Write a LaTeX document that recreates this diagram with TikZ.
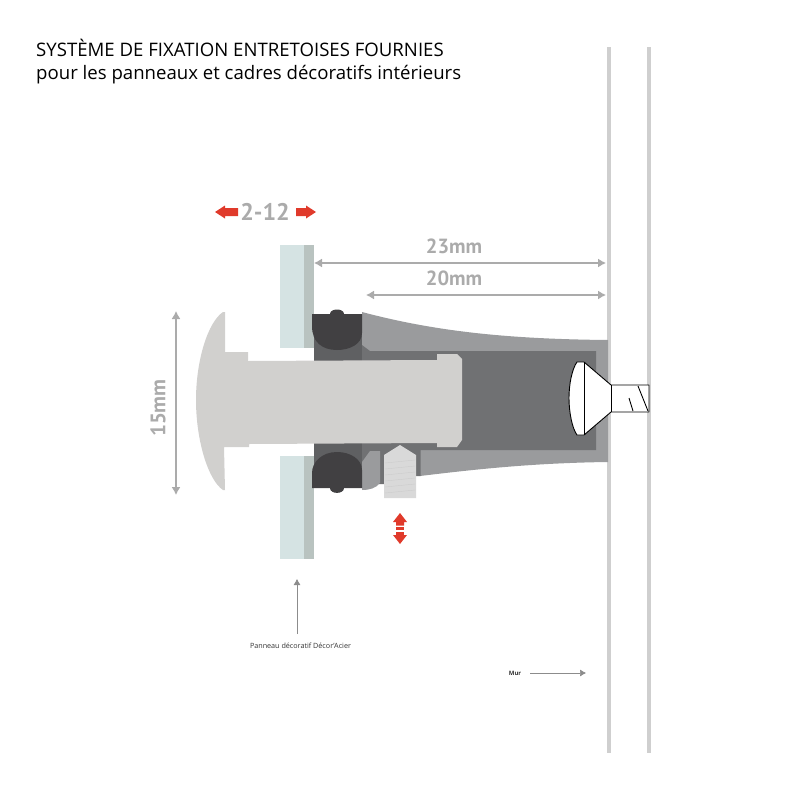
\documentclass[tikz,border=0pt]{standalone}
\usepackage{fontspec}
\setmainfont{Open Sans}
\newfontfamily\cotefont{PT Sans}
\usepackage{xcolor}
\usetikzlibrary{positioning,calc,arrows.meta}

\definecolor{vitre}{HTML}{D5E3E3}
\definecolor{dosvitre}{HTML}{B9C3C0}
\definecolor{boulon}{HTML}{D1D0CE}
\definecolor{joint}{HTML}{414042}
\definecolor{bague}{HTML}{5F6062}
\definecolor{corps}{HTML}{9A9B9D}
\definecolor{creux}{HTML}{707173}
\definecolor{vis}{HTML}{D9D9D9}
\definecolor{mur}{HTML}{CFCFCF}
\definecolor{cote}{HTML}{ABABAB}
\definecolor{rouge}{HTML}{E03A2B}

\begin{document}
\begin{tikzpicture}[x=1pt,y=-1pt]

\tikzstyle{titre}=[anchor=west, inner sep=0pt, text=black, font=\fontsize{18.6}{20}\selectfont]
\tikzstyle{mesure}=[inner sep=0pt, text=cote, font=\cotefont\bfseries\fontsize{20.5}{22}\selectfont]
\tikzstyle{legende}=[inner sep=0pt, text=black!80, font=\fontsize{7.2}{8}\selectfont]
\tikzstyle{fleche}=[{Latex[length=8pt,width=9pt]}-{Latex[length=8pt,width=9pt]}, cote, line width=1.3pt]
\tikzstyle{renvoi}=[-{Latex[length=6pt,width=7pt]}, draw=black!45, line width=0.5pt]
\tikzstyle{trait}=[draw=black, line width=0.9pt, line join=round]
\tikzstyle{filet}=[draw=black!20, line width=0.4pt]

\useasboundingbox (0,0) rectangle (800,800);

%les murs
\fill[mur] (606.5,47) rectangle (610.5,753);
\fill[mur] (646.5,47) rectangle (650.5,753);

%les panneaux
\fill[vitre] (280,245) rectangle (304,348);
\fill[dosvitre] (304,245) rectangle (314,348);
\fill[vitre] (280,456) rectangle (304,559);
\fill[dosvitre] (304,456) rectangle (314,559);

%le corps de l'entretoise
\fill[corps] (362,312) .. controls (430,330) and (500,339) .. (608,340) -- (608,462)
  .. controls (530,463) and (470,470) .. (420,476) -- (420,450) -- (362,450) -- cycle;
\fill[creux] (362,345) -- (370,351) -- (596,351) -- (596,450) -- (420.5,450) -- (420.5,476)
  -- (384,476) -- (384,484) -- (362,484) -- (362,360) -- cycle;
\fill[corps] (362,462) -- (370,451) -- (380,451) -- (380,483)
  .. controls (376,488) and (370,490) .. (362,490) -- cycle;

%les joints
\fill[bague] (314,314) rectangle (362,361);
\fill[bague] (314,443) rectangle (362,488);
\fill[joint] (330,314) .. controls (330,308) and (344,308) .. (344,314) -- (362,314) -- (362,333)
  .. controls (362,344) and (350,350) .. (337,350) .. controls (322,350) and (312,342) .. (312,326)
  -- (312,314) -- cycle;
\fill[joint] (330,488) .. controls (330,494.5) and (344,494.5) .. (344,488) -- (362,488) -- (362,470)
  .. controls (362,459) and (350,452) .. (337,452) .. controls (322,452) and (312,462) .. (312,473)
  -- (312,488) -- cycle;

%le boulon
\fill[boulon] (223,312) .. controls (208,322) and (196,360) .. (196,400)
  .. controls (196,440) and (208,480) .. (223,490) -- (225,490) -- (224,447) -- (249,447) -- (249,444)
  -- (437,443) -- (437,447) -- (457,447) -- (462,440) -- (462,359) -- (457,354) -- (437,354) -- (437,360)
  -- (248,361) -- (248,352) -- (225,352) -- (225,312) -- cycle;

%la vis de reglage
\fill[vis] (384,455) -- (400,445) -- (416,455) -- (416,498) -- (384,498) -- cycle;
\foreach \yy in {462,468,474,480,486,492}
  \draw[filet] (385,\yy+1) -- (415,\yy-2);

%la vis du mur
\fill[white] (611,385) rectangle (649,412);
\draw[trait, fill=white] (577,362) -- (584,362) -- (611,385) -- (649,385) -- (649,412) -- (611,412)
  -- (584,435) -- (577,435) .. controls (572,428) and (569,412) .. (569,398)
  .. controls (569,384) and (572,369) .. (577,362) -- cycle;
\draw[trait] (584,362) -- (584,435);
\draw[trait] (611,385) -- (611,412);
\draw[trait] (638,386) -- (648,411);
\draw[trait] (629,398) -- (633,411);

%les fleches rouges
\fill[rouge] (215,212) -- (225,205.5) -- (225,208) -- (238,208) -- (238,216) -- (225,216) -- (225,218.5) -- cycle;
\fill[rouge] (316,212) -- (306,205.5) -- (306,208) -- (296,208) -- (296,216) -- (306,216) -- (306,218.5) -- cycle;
\fill[rouge] (400,513) -- (407,522) -- (404,522) -- (404,525.5) -- (396,525.5) -- (396,522) -- (393,522) -- cycle;
\fill[rouge] (396,527) rectangle (404,530);
\fill[rouge] (396,531.5) rectangle (404,535);
\fill[rouge] (400,544) -- (407,535) -- (393,535) -- cycle;

%placement des cotes
\coordinate (a23) at (314,263);
\coordinate (b23) at (606,263);
\coordinate (a20) at (366,295);
\coordinate (b20) at (606,295);
\coordinate (a15) at (176,311);
\coordinate (b15) at (176,495);
\coordinate (aP) at (297,634);
\coordinate (bP) at (297,579);
\coordinate (aM) at (530,673);
\coordinate (bM) at (586,673);

\draw[fleche] (a23) -- (b23);
\draw[fleche] (a20) -- (b20);
\draw[fleche] (a15) -- (b15);
\draw[renvoi] (aP) -- (bP);
\draw[renvoi] (aM) -- (bM);

%les textes
\node[titre] (titre1) at (36,48) {SYSTÈME DE FIXATION ENTRETOISES FOURNIES};
\node[titre] (titre2) at (36,75) {pour les panneaux et cadres décoratifs intérieurs};
\node[mesure, font=\cotefont\bfseries\fontsize{24}{26}\selectfont] (jeu) at (265,212) {2-12};
\node[mesure] (m23) at (454,246) {23mm};
\node[mesure] (m20) at (454,278) {20mm};
\node[mesure, rotate=90, font=\cotefont\bfseries\fontsize{21}{23}\selectfont] (m15) at (158,408) {15mm};
\node[legende] (panneau) at (300.5,645.5) {Panneau décoratif Décor'Acier};
\node[legende, font=\bfseries\fontsize{6}{8}\selectfont] (mura) at (515,673) {Mur};
\end{tikzpicture}
\end{document}
